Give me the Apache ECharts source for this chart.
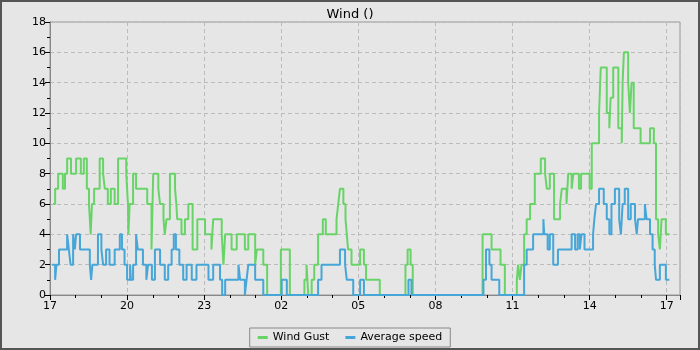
<!DOCTYPE html>
<html>
<head>
<meta charset="utf-8">
<script src="https://cdn.jsdelivr.net/npm/echarts@6/dist/echarts.min.js"></script>
<style>
  html, body { margin: 0; padding: 0; background: #e6e6e6; }
  #chart { width: 700px; height: 350px; box-sizing: border-box; border: 2px solid #555; }
</style>
</head>
<body>
<div id="chart"></div>
<script>
// minutes after 17:00, value holds until the next change
const gustMinutes = [7, 12, 19, 30, 35, 40, 49, 51, 61, 72, 79, 86, 91, 95, 98, 103, 116, 124, 128, 135,
  142, 151, 159, 178, 182, 183, 186, 194, 201, 227, 237, 241, 253, 257, 265, 268, 272, 280, 292, 295,
  297, 307, 315, 323, 333, 344, 362, 377, 381, 401, 405, 409, 424, 436, 455, 463, 479, 483, 498, 507,
  539, 560, 594, 599, 603, 611, 617, 626, 637, 644, 669, 673, 677, 685, 690, 693, 696, 704, 724, 733,
  738, 770, 830, 835, 842, 847, 1010, 1031, 1052, 1062, 1090, 1093, 1097, 1101, 1107, 1113, 1121, 1132, 1146, 1156,
  1160, 1167, 1177, 1191, 1195, 1206, 1210, 1218, 1222, 1235, 1240, 1260, 1265, 1282, 1286, 1300, 1306, 1309, 1315, 1327,
  1335, 1337, 1340, 1350, 1354, 1358, 1363, 1379, 1401, 1410, 1415, 1420, 1424, 1428, 1438, 1446];
const gustValues = [6, 7, 8, 7, 8, 9, 8, 8, 9, 8, 9, 7, 6, 4, 6, 7, 9, 8, 7, 6,
  7, 6, 9, 8, 6, 4, 6, 8, 7, 6, 3, 8, 7, 6, 5, 4, 5, 8, 7, 6,
  5, 4, 5, 6, 3, 5, 4, 3, 5, 4, 2, 4, 3, 4, 3, 4, 2, 3, 2, 0,
  3, 0, 1, 2, 0, 1, 2, 4, 5, 4, 5, 6, 7, 6, 5, 4, 3, 2, 3, 2,
  1, 0, 2, 3, 2, 0, 4, 3, 2, 0, 1, 2, 1, 2, 4, 5, 6, 8, 9, 8,
  7, 8, 5, 6, 7, 6, 8, 7, 8, 7, 8, 7, 10, 12, 15, 12, 11, 13, 15, 11,
  10, 14, 16, 14, 12, 14, 11, 10, 11, 10, 5, 4, 3, 5, 4, 4];

const avgMinutes = [5, 12, 15, 21, 40, 44, 48, 54, 58, 61, 70, 93, 96, 99, 112, 120, 124, 131, 139, 151,
  163, 168, 174, 180, 187, 189, 194, 201, 205, 217, 225, 229, 238, 245, 257, 268, 276, 284, 289, 294,
  302, 311, 319, 331, 342, 370, 381, 397, 402, 409, 440, 444, 455, 459, 463, 479, 498, 541, 553, 626,
  634, 677, 689, 693, 708, 724, 733, 837, 844, 1012, 1018, 1026, 1031, 1049, 1107, 1113, 1128, 1152, 1154, 1162,
  1167, 1175, 1186, 1218, 1226, 1232, 1237, 1241, 1248, 1268, 1271, 1275, 1282, 1293, 1300, 1306, 1311, 1319, 1329, 1333,
  1337, 1342, 1350, 1356, 1366, 1370, 1373, 1389, 1393, 1401, 1407, 1412, 1415, 1424, 1438, 1446];
const avgValues = [2, 1, 2, 3, 4, 3, 2, 4, 3, 4, 3, 2, 1, 2, 4, 3, 2, 3, 2, 3,
  4, 3, 2, 1, 2, 1, 2, 4, 3, 2, 1, 2, 1, 3, 2, 1, 2, 3, 4, 3,
  2, 1, 2, 1, 2, 1, 2, 1, 0, 1, 2, 1, 0, 1, 2, 1, 0, 1, 0, 1,
  2, 3, 2, 1, 0, 1, 0, 1, 0, 1, 3, 2, 1, 0, 2, 3, 4, 5, 4, 3,
  4, 2, 3, 4, 3, 4, 3, 4, 3, 4, 5, 6, 7, 6, 5, 4, 6, 7, 5, 4,
  6, 7, 5, 6, 5, 4, 5, 6, 5, 4, 3, 2, 1, 2, 1, 1];

const startHour = 17;
const axisEnd = 1471;

const pad = (n) => (n < 10 ? `0${n}` : `${n}`);
const pairs = (xs, ys) => xs.map((x, i) => [x, ys[i]]);

const chart = echarts.init(document.getElementById('chart'));
chart.setOption({
  backgroundColor: '#e6e6e6',
  animation: false,
  textStyle: { fontFamily: 'DejaVu Sans' },
  title: {
    text: 'Wind ()',
    left: 'center',
    top: 1,
    textStyle: { fontSize: 13, fontWeight: 'normal', color: '#000', fontFamily: 'DejaVu Sans' },
  },
  grid: {
    left: 48, right: 18, top: 20, bottom: 53,
    show: true, borderColor: '#999', borderWidth: 1, backgroundColor: 'transparent',
  },
  legend: {
    bottom: 1,
    left: 'center',
    icon: 'rect',
    itemWidth: 10,
    itemHeight: 3,
    itemGap: 16,
    padding: [4, 8],
    borderColor: '#888',
    borderWidth: 1,
    textStyle: { fontSize: 11, color: '#000', fontFamily: 'DejaVu Sans' },
    data: ['Wind Gust', 'Average speed'],
  },
  xAxis: {
    type: 'value',
    min: 0,
    max: axisEnd,
    interval: 180,
    axisLine: { lineStyle: { color: '#888' } },
    axisTick: { length: 5, lineStyle: { color: '#000' } },
    minorTick: { show: true, splitNumber: 3, length: 3, lineStyle: { color: '#000' } },
    axisLabel: {
      color: '#000',
      fontSize: 11,
      margin: 6,
      formatter: (v) => (v % 180 === 0 ? pad((startHour + v / 60) % 24) : ''),
    },
    splitLine: { show: true, lineStyle: { color: '#bbb', type: [4, 3] } },
  },
  yAxis: {
    type: 'value',
    min: 0,
    max: 18,
    interval: 2,
    axisLine: { show: true, lineStyle: { color: '#888' } },
    axisTick: { show: true, length: 5, lineStyle: { color: '#000' } },
    minorTick: { show: true, splitNumber: 2, length: 3, lineStyle: { color: '#000' } },
    axisLabel: { color: '#000', fontSize: 11, margin: 4 },
    splitLine: { show: true, lineStyle: { color: '#bbb', type: [4, 3] } },
  },
  series: [
    {
      name: 'Wind Gust',
      type: 'line',
      step: 'end',
      showSymbol: false,
      color: '#68d468',
      lineStyle: { width: 2 },
      data: pairs(gustMinutes, gustValues),
    },
    {
      name: 'Average speed',
      type: 'line',
      step: 'end',
      showSymbol: false,
      color: '#46a6d8',
      lineStyle: { width: 2 },
      data: pairs(avgMinutes, avgValues),
    },
  ],
});
</script>
</body>
</html>
